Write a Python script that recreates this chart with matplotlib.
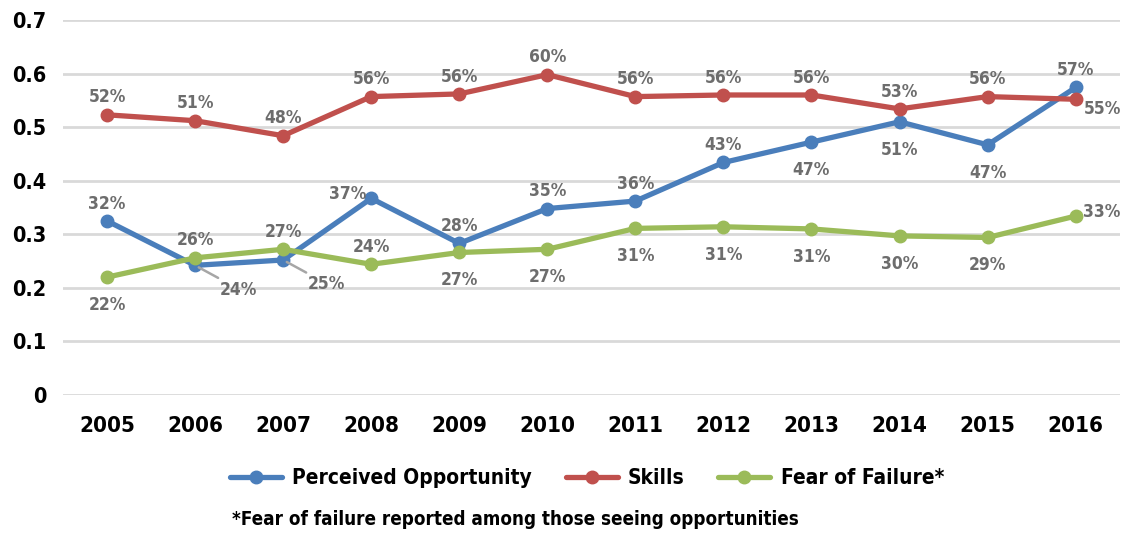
import matplotlib.pyplot as plt
from matplotlib.ticker import FixedLocator

plt.rcParams['font.family'] = ['DejaVu Sans']
plt.rcParams['font.stretch'] = 'condensed'
plt.rcParams['font.weight'] = 'bold'

years = [2005, 2006, 2007, 2008, 2009, 2010, 2011, 2012, 2013, 2014, 2015, 2016]
opportunity = [0.325, 0.242, 0.252, 0.367, 0.283, 0.348, 0.362, 0.434, 0.472, 0.510, 0.467, 0.574]
skills = [0.523, 0.512, 0.484, 0.557, 0.562, 0.598, 0.557, 0.560, 0.560, 0.534, 0.557, 0.552]
fear = [0.220, 0.256, 0.272, 0.244, 0.266, 0.272, 0.311, 0.314, 0.310, 0.297, 0.294, 0.334]

# where each value label sits relative to its point
opp_pos = ['above', 'leader', 'leader', 'left', 'above', 'above', 'above', 'above',
           'below', 'below', 'below', 'above']
skills_pos = ['above'] * 11 + ['right_low']
fear_pos = ['below', 'above', 'above', 'above', 'below', 'below', 'below', 'below',
            'below', 'below', 'below', 'right']

blue = '#4a7ebb'
red = '#c0504d'
green = '#9bbb59'
label_color = '#6d6d6d'

fig = plt.figure(figsize=(11.31, 5.33), dpi=100)
ax = fig.add_axes([0.0557, 0.2589, 0.9343, 0.7036])

for vals, col, name in [(opportunity, blue, 'Perceived Opportunity'),
                        (skills, red, 'Skills'),
                        (fear, green, 'Fear of Failure*')]:
    ax.plot(years, vals, color=col, lw=3.8, marker='o', ms=9,
            solid_capstyle='round', label=name, zorder=3)

offsets = {'above': (0, 12.5), 'below': (0, -20), 'left': (-17, 3.5),
           'right': (19, 3), 'right_low': (19, -7), 'leader': (31, -17.5)}


def add_labels(vals, positions):
    for x, v, p in zip(years, vals, positions):
        dx, dy = offsets[p]
        arrow = None
        if p == 'leader':
            arrow = dict(arrowstyle='-', color='#a6a6a6', lw=1.8,
                         shrinkA=0, shrinkB=3, relpos=(0.1, 1.0))
        ax.annotate(f'{round(v * 100):.0f}%', (x, v), xytext=(dx, dy),
                    textcoords='offset points', ha='center', va='center',
                    fontsize=12.5, color=label_color, arrowprops=arrow,
                    zorder=4)


add_labels(opportunity, opp_pos)
add_labels(skills, skills_pos)
add_labels(fear, fear_pos)

ax.set_xlim(2004.5, 2016.5)
ax.set_ylim(0, 0.7)
ax.xaxis.set_major_locator(FixedLocator(years))
ax.set_yticks([0, 0.1, 0.2, 0.3, 0.4, 0.5, 0.6, 0.7])
ax.set_yticklabels(['0', '0.1', '0.2', '0.3', '0.4', '0.5', '0.6', '0.7'])
ax.tick_params(axis='both', length=0, labelsize=15.5, labelcolor='black')
ax.tick_params(axis='x', pad=15, labelsize=16)
ax.tick_params(axis='y', pad=12)
ax.grid(axis='y', color='#d9d9d9', lw=2)
ax.set_axisbelow(True)
for s in ax.spines.values():
    s.set_visible(False)

fig.legend(loc='center', bbox_to_anchor=(0.519, 0.103), ncol=3, frameon=False,
           fontsize=15, handlelength=2.5, columnspacing=1.6, handletextpad=0.5)
fig.text(0.205, 0.026, '*Fear of failure reported among those seeing opportunities',
         fontsize=13.5, ha='left', va='center')

fig.savefig('out.png', dpi=100)
